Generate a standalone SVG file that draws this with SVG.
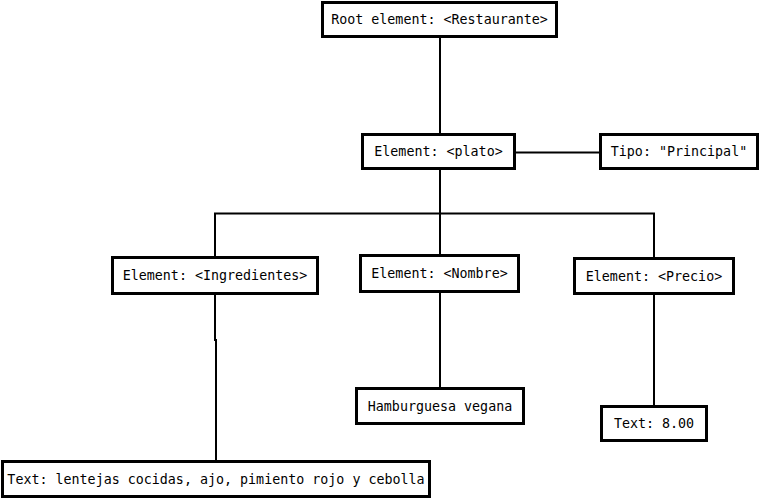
<svg xmlns="http://www.w3.org/2000/svg" width="760" height="499" viewBox="0 0 760 499">
<style>
.box{fill:#fff;stroke:#000;stroke-width:3}
.lbl{font-family:"DejaVu Sans Mono",monospace;font-size:13.33px;fill:#000;text-anchor:middle}
.ln{fill:none;stroke:#000;stroke-width:2}
</style>
<rect width="760" height="499" fill="#fff"/>
<g id="connectors">
<line class="ln" x1="440" y1="38" x2="440" y2="133"/>
<line class="ln" x1="516" y1="152.5" x2="599" y2="152.5"/>
<line class="ln" x1="440" y1="170" x2="440" y2="213.5"/>
<polyline class="ln" points="215,256 215,213.5 654,213.5 654,257"/>
<line class="ln" x1="440" y1="213.5" x2="440" y2="254"/>
<polyline class="ln" points="215,295 215,340 216,340 216,460"/>
<line class="ln" x1="440" y1="293" x2="440" y2="387"/>
<line class="ln" x1="654" y1="295" x2="654" y2="405"/>
</g>
<g id="root"><rect class="box" x="322.5" y="2.5" width="234" height="34"/><text class="lbl" x="439.5" y="24">Root element: &lt;Restaurante&gt;</text></g>
<g id="plato"><rect class="box" x="362.5" y="134.5" width="152" height="34"/><text class="lbl" x="438.5" y="156">Element: &lt;plato&gt;</text></g>
<g id="tipo"><rect class="box" x="600.5" y="134.5" width="157" height="34"/><text class="lbl" x="679" y="156">Tipo: "Principal"</text></g>
<g id="ingredientes"><rect class="box" x="112.5" y="257.5" width="205" height="36"/><text class="lbl" x="215" y="280">Element: &lt;Ingredientes&gt;</text></g>
<g id="nombre"><rect class="box" x="360.5" y="255.5" width="158" height="36"/><text class="lbl" x="439.5" y="278">Element: &lt;Nombre&gt;</text></g>
<g id="precio"><rect class="box" x="574.5" y="258.5" width="159" height="35"/><text class="lbl" x="654" y="280.5">Element: &lt;Precio&gt;</text></g>
<g id="hamburguesa"><rect class="box" x="356.5" y="388.5" width="167" height="35"/><text class="lbl" x="440" y="410.5">Hamburguesa vegana</text></g>
<g id="precio-text"><rect class="box" x="601.5" y="406.5" width="105" height="34"/><text class="lbl" x="654" y="428">Text: 8.00</text></g>
<g id="ingredientes-text"><rect class="box" x="2.5" y="461.5" width="427" height="35"/><text class="lbl" x="216" y="483.5">Text: lentejas cocidas, ajo, pimiento rojo y cebolla</text></g>
</svg>
